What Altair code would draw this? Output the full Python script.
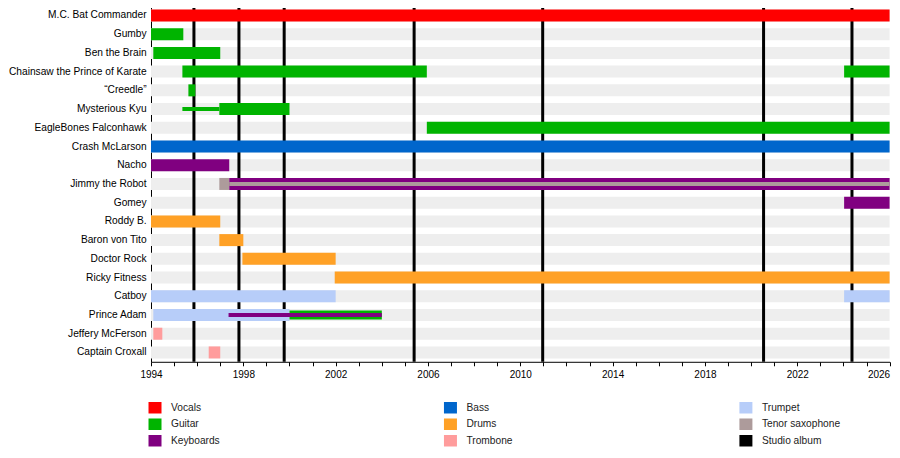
import altair as alt
import pandas as pd

# ---------------- data ----------------
members = [
    "M.C. Bat Commander", "Gumby", "Ben the Brain", "Chainsaw the Prince of Karate",
    "\u201cCreedle\u201d", "Mysterious Kyu", "EagleBones Falconhawk", "Crash McLarson",
    "Nacho", "Jimmy the Robot", "Gomey", "Roddy B.", "Baron von Tito", "Doctor Rock",
    "Ricky Fitness", "Catboy", "Prince Adam", "Jeffery McFerson", "Captain Croxall",
]

instruments = ["Vocals", "Guitar", "Keyboards", "Bass", "Drums", "Trombone",
               "Trumpet", "Tenor saxophone", "Studio album"]
colors = ["#FF0000", "#00B400", "#800080", "#0066CC", "#FFA126", "#FF9C9C",
          "#B7CDF9", "#AD9B9B", "#000000"]

# main (full-width) bars
full_member = [
    "M.C. Bat Commander", "Gumby", "Ben the Brain", "Chainsaw the Prince of Karate",
    "Chainsaw the Prince of Karate", "\u201cCreedle\u201d", "Mysterious Kyu",
    "EagleBones Falconhawk", "Crash McLarson", "Nacho", "Jimmy the Robot",
    "Jimmy the Robot", "Gomey", "Roddy B.", "Baron von Tito", "Doctor Rock",
    "Ricky Fitness", "Catboy", "Catboy", "Prince Adam", "Jeffery McFerson",
    "Captain Croxall",
]
full_instr = [
    "Vocals", "Guitar", "Guitar", "Guitar", "Guitar", "Guitar", "Guitar", "Guitar",
    "Bass", "Keyboards", "Tenor saxophone", "Keyboards", "Keyboards", "Drums", "Drums",
    "Drums", "Drums", "Trumpet", "Trumpet", "Trumpet", "Trombone", "Trombone",
]
full_start = [1994, 1994, 1994.1, 1995.36, 2024.03, 1995.62, 1996.96, 2005.95,
              1994, 1994, 1996.96, 1997.39, 2024.03, 1994, 1996.96, 1997.96,
              2001.96, 1994, 2024.03, 1994.1, 1994.1, 1996.5]
full_end = [2026, 1995.4, 1997.0, 2005.95, 2026, 1995.92, 2000.0, 2026,
            2026, 1997.39, 1997.39, 2026, 2026, 1997.0, 1998.0, 2002.0,
            2026, 2002.0, 2026, 2000.0, 1994.49, 1997.0]

# secondary role, medium bar
mid_member = ["Prince Adam"]
mid_instr = ["Guitar"]
mid_start = [2000.0]
mid_end = [2004.0]

# secondary role, thin bars
thin_member = ["Mysterious Kyu", "Jimmy the Robot", "Prince Adam"]
thin_instr = ["Guitar", "Tenor saxophone", "Keyboards"]
thin_start = [1995.36, 1997.39, 1997.36]
thin_end = [1996.96, 2026, 2004.0]

# studio albums
album_years = [1995.86, 1997.81, 1999.77, 2005.40, 2010.97, 2020.54, 2024.37]

year_start, year_end = 1994, 2026
tick_years = list(range(year_start, year_end + 1))

# ---------------- tables ----------------
full_df = pd.DataFrame({"member": full_member, "instrument": full_instr,
                        "start": full_start, "end": full_end})
mid_df = pd.DataFrame({"member": mid_member, "instrument": mid_instr,
                       "start": mid_start, "end": mid_end})
thin_df = pd.DataFrame({"member": thin_member, "instrument": thin_instr,
                        "start": thin_start, "end": thin_end})
band_df = pd.DataFrame({"member": members, "start": [year_start] * len(members),
                        "end": [year_end] * len(members)})
album_df = pd.DataFrame({"start": album_years})
leg_df = pd.DataFrame({"instrument": instruments,
                       "col": [i // 3 for i in range(len(instruments))],
                       "row": [i % 3 for i in range(len(instruments))]})

FONT = "Liberation Sans"

x_enc = alt.X(
    "start:Q",
    scale=alt.Scale(domain=[year_start, year_end], nice=False, zero=False),
    axis=alt.Axis(title=None, values=tick_years, format="d",
                  labelExpr="(datum.value - 1994) % 4 === 0 ? datum.label : ''",
                  labelOverlap=False, labelFlush=False,
                  labelAlign={"condition": {"test": "datum.value === 2026", "value": "right"},
                              "value": "center"},
                  tickSize=4, tickColor="#000", domainColor="#000",
                  labelFontSize=10, labelPadding=3.5, labelColor="#000", grid=False),
)
y_enc = alt.Y(
    "member:N",
    scale=alt.Scale(domain=members, paddingInner=0, paddingOuter=0),
    axis=alt.Axis(title=None, ticks=False, tickSize=0, labelPadding=4.9,
                  labelFontSize=10.2, labelColor="#000", domainColor="#000",
                  labelLimit=300),
)
color_enc = alt.Color("instrument:N",
                      scale=alt.Scale(domain=instruments, range=colors),
                      legend=None)

bands = alt.Chart(band_df).mark_bar(height=12, color="#EEEEEE").encode(
    x=x_enc, x2="end:Q", y=y_enc)
albums = alt.Chart(album_df).mark_rule(strokeWidth=3, color="#000000").encode(
    x=x_enc)
full_bars = alt.Chart(full_df).mark_bar(height=12).encode(
    x=x_enc, x2="end:Q", y=y_enc, color=color_enc)
mid_bars = alt.Chart(mid_df).mark_bar(height=9).encode(
    x=x_enc, x2="end:Q", y=y_enc, color=color_enc)
thin_bars = alt.Chart(thin_df).mark_bar(height=4).encode(
    x=x_enc, x2="end:Q", y=y_enc, color=color_enc)

main = alt.layer(bands, albums, full_bars, mid_bars, thin_bars).properties(
    width=738.6, height=355.7)

# ---------------- legend ----------------
lx = alt.X("col:Q", scale=alt.Scale(domain=[0, 2.2], nice=False, zero=False), axis=None)
ly = alt.Y("row:Q", scale=alt.Scale(domain=[-0.5, 2.5], nice=False, zero=False,
                                    reverse=True), axis=None)
swatch = alt.Chart(leg_df).mark_point(
    shape="M-1,-0.885H1V0.885H-1Z", filled=True, size=169, opacity=1,
    strokeWidth=0, xOffset=4).encode(x=lx, y=ly, color=color_enc)
labels = alt.Chart(leg_df).mark_text(
    align="left", baseline="middle", dx=20, fontSize=10.2, color="#222222").encode(
    x=lx, y=ly, text="instrument:N")
legend = alt.layer(swatch, labels).properties(width=650, height=49.5)

chart = alt.vconcat(main, legend, spacing=37.4, bounds="flush").properties(
    padding={"top": -3.9, "left": 0, "right": 0, "bottom": 0}
).configure(font=FONT).configure_view(stroke=None)

chart.save("out.html", embed_options={"renderer": "svg", "actions": False})
